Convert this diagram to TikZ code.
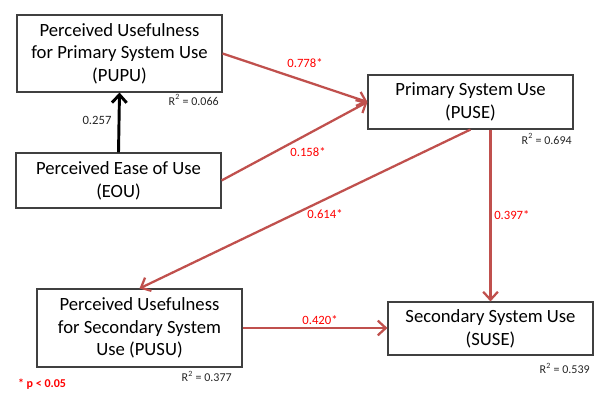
\documentclass[tikz,border=0pt]{standalone}
\usepackage{fontspec}
\setmainfont{Carlito}
\usetikzlibrary{arrows.meta,calc}
\definecolor{arrred}{RGB}{192,80,77}
\definecolor{lblred}{RGB}{255,0,0}
\definecolor{boxgray}{RGB}{64,64,64}
\tikzset{
  box/.style={draw=boxgray, line width=0.8pt, align=center, inner sep=0pt,
    font=\fontsize{14}{17}\selectfont, text=black},
  redarrow/.style={draw=arrred, line width=1.7pt, -{Straight Barb[length=6pt,width=11pt,line width=1.7pt]}},
  blackarrow/.style={draw=black, line width=2.2pt, -{Straight Barb[length=6pt,width=11pt,line width=2.2pt]}},
  coef/.style={text=lblred, font=\fontsize{9.5}{11}\selectfont, inner sep=0pt},
  coefblack/.style={text=black!85, font=\fontsize{9.5}{11}\selectfont, inner sep=0pt},
  rsq/.style={text=black!85, font=\fontsize{9}{10}\selectfont, inner sep=0pt, anchor=east},
}
\begin{document}
\begin{tikzpicture}[x=0.75pt,y=-0.75pt]
\useasboundingbox (0,0) rectangle (606,406);
\node[box, minimum width=205*0.75pt, minimum height=77*0.75pt] (PUPU) at (119.5,53.5)
  {Perceived Usefulness\\for Primary System Use\\(PUPU)};
\node[box, minimum width=205*0.75pt, minimum height=55*0.75pt] (EOU) at (118.5,180.5)
  {Perceived Ease of Use\\(EOU)};
\node[box, minimum width=205*0.75pt, minimum height=54*0.75pt] (PUSE) at (470.5,102)
  {Primary System Use\\(PUSE)};
\node[box, minimum width=205*0.75pt, minimum height=78*0.75pt] (PUSU) at (139.5,328)
  {Perceived Usefulness\\for Secondary System\\Use (PUSU)};
\node[box, minimum width=205*0.75pt, minimum height=53*0.75pt] (SUSE) at (490.5,328.5)
  {Secondary System Use\\(SUSE)};

\draw[blackarrow] (EOU.north) -- (PUPU.south);
\draw[redarrow] (PUPU.east) -- (PUSE.west);
\draw[redarrow] (EOU.east) -- (PUSE.west);
\draw[redarrow] (PUSE.south) -- (PUSU.north);
\draw[redarrow] (PUSE.south -| SUSE.north) -- (SUSE.north);
\draw[redarrow] (PUSU.east) -- (PUSU.east -| SUSE.west);

\node[coefblack] (c257) at (97,120) {0.257};
\node[coef] (c778) at (305,63) {0.778*};
\node[coef] (c158) at (308,152) {0.158*};
\node[coef] (c614) at (325,214) {0.614*};
\node[coef, anchor=west] (c397) at (494,215) {0.397*};
\node[coef] (c420) at (320,320) {0.420*};

\node[rsq] (r1) at (219,100) {R\textsuperscript{2} = 0.066};
\node[rsq] (r2) at (572,139) {R\textsuperscript{2} = 0.694};
\node[rsq] (r3) at (232,376) {R\textsuperscript{2} = 0.377};
\node[rsq] (r4) at (590,368) {R\textsuperscript{2} = 0.539};

\node[text=lblred, font=\fontsize{9}{11}\selectfont\bfseries, inner sep=0pt] (sig) at (42,384) {* p < 0.05};
\end{tikzpicture}
\end{document}
